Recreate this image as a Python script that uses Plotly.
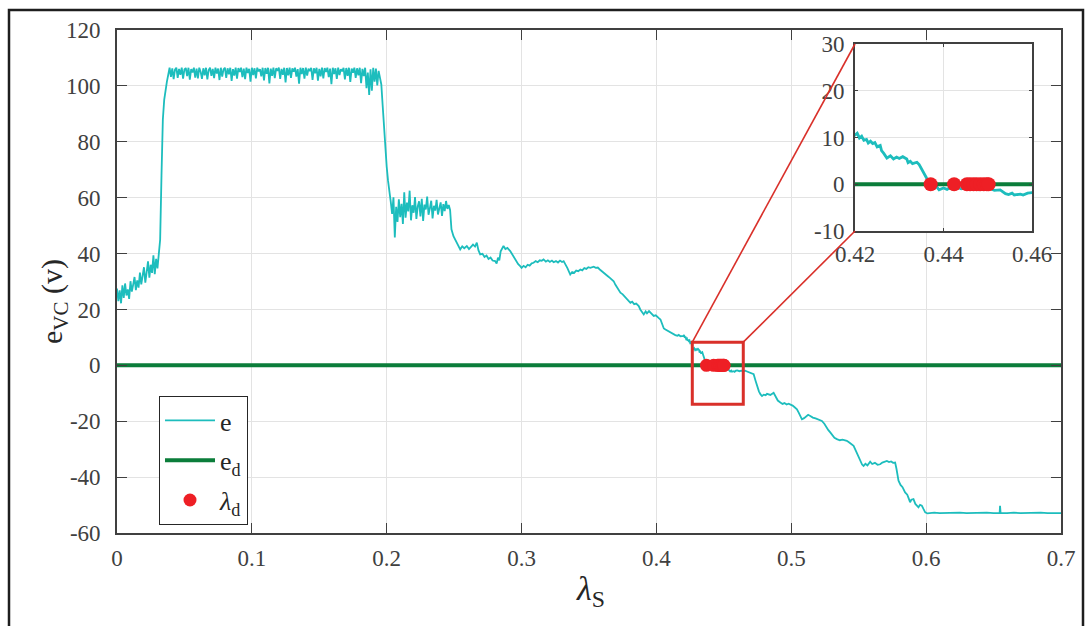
import plotly.graph_objects as go

# ---------------- data ----------------
# start-up region, lambda_S = 0.000 ... 0.031 (step 0.001)
lam_start = [round(0.001 * i, 3) for i in range(32)]
e_start = [27.5, 23.0, 26.8, 22.2, 28.6, 24.1, 29.3, 25.0, 27.2, 23.8,
           30.1, 26.4, 28.9, 31.6, 26.9, 30.4, 27.8, 33.2, 29.0, 31.5,
           35.1, 29.6, 33.8, 37.2, 31.4, 36.0, 33.1, 39.4, 32.6, 38.1,
           34.7, 40.2]

# steep rise to the saturation level
lam_rise = [0.032, 0.033, 0.034, 0.035, 0.036, 0.037, 0.038]
e_rise = [45.0, 68.0, 88.0, 95.0, 99.5, 101.5, 104.0]

# saturated plateau, lambda_S = 0.039 ... 0.195 (step 0.001)
e_plateau = [106.5, 103.2, 106.3, 102.4, 105.8, 106.5, 102.9, 106.1, 104.0, 106.5,
             102.6, 105.9, 106.4, 103.5, 106.5, 102.2, 106.0, 104.8, 106.5, 103.0,
             106.2, 102.7, 106.5, 105.1, 102.5, 106.3, 103.8, 106.5, 102.3, 105.7,
             106.5, 103.6, 106.1, 102.8, 106.5, 104.4, 106.2, 102.1, 106.5, 103.3,
             105.9, 106.5, 102.9, 106.3, 104.1, 106.5, 101.8, 106.0, 103.7, 106.5,
             102.6, 106.4, 105.0, 106.5, 103.1, 106.2, 102.4, 106.5, 104.6, 106.1,
             101.5, 106.5, 103.9, 106.3, 102.7, 106.5, 105.2, 106.0, 103.4, 106.5,
             102.0, 106.4, 104.3, 106.5, 100.9, 106.2, 103.6, 106.5, 102.8, 106.3,
             105.4, 106.5, 102.5, 106.1, 104.0, 106.5, 101.2, 106.4, 103.8, 106.5,
             102.9, 106.3, 105.1, 106.5, 103.3, 106.0, 100.8, 106.5, 104.2, 106.4,
             102.6, 106.5, 103.7, 106.2, 105.3, 106.5, 102.1, 106.3, 104.5, 106.5,
             101.9, 106.1, 103.4, 106.5, 102.7, 106.4, 105.0, 106.5, 103.1, 106.2,
             100.6, 106.5, 104.2, 106.3, 102.5, 106.5, 103.9, 106.0, 105.2, 106.5,
             102.3, 106.4, 103.6, 106.5, 101.4, 106.2, 104.7, 106.5, 102.9, 106.3,
             103.8, 106.5, 101.0, 106.1, 103.5, 106.5, 99.2, 104.8, 96.8, 105.9,
             98.3, 106.5, 101.5, 106.2, 100.2, 105.4, 102.0]
lam_plateau = [round(0.039 + 0.001 * i, 3) for i in range(len(e_plateau))]

# fall from saturation
lam_fall = [0.196, 0.197, 0.198, 0.199, 0.200, 0.201, 0.202]
e_fall = [100.5, 93.0, 84.0, 77.0, 71.0, 66.0, 61.0]

# noisy band, lambda_S = 0.203 ... 0.247 (step 0.001)
e_band = [58.5, 54.2, 60.1, 45.8, 56.7, 51.3, 59.4, 53.0, 57.8, 50.6,
          61.9, 52.8, 58.2, 55.1, 62.5, 51.9, 57.3, 54.6, 60.2, 52.4,
          56.9, 58.7, 53.3, 59.6, 51.7, 57.5, 55.8, 60.4, 53.9, 56.2,
          58.9, 52.6, 57.1, 55.4, 59.2, 54.0, 56.6, 58.3, 53.5, 57.7,
          55.2, 58.8, 56.0, 57.4, 55.6]
lam_band = [round(0.203 + 0.001 * i, 3) for i in range(len(e_band))]

# slow descent, 0.248 ... 0.420
lam_slope = [0.248, 0.2495, 0.251, 0.2525, 0.2545, 0.256, 0.2575, 0.2594, 0.261, 0.2625,
             0.264, 0.2655, 0.2668, 0.268, 0.2693, 0.271, 0.2725, 0.274, 0.2755, 0.277,
             0.2785, 0.2804, 0.2815, 0.2825, 0.2835, 0.2845, 0.2855, 0.2866, 0.288, 0.2895,
             0.2916, 0.293, 0.2945, 0.296, 0.2975, 0.299, 0.300, 0.3015, 0.303, 0.3045,
             0.306, 0.3075, 0.3089, 0.3105, 0.312, 0.3135, 0.315, 0.3163, 0.318, 0.3195,
             0.321, 0.3225, 0.3238, 0.3255, 0.327, 0.3285, 0.330, 0.3312, 0.3325, 0.334,
             0.3361, 0.3375, 0.339, 0.3405, 0.342, 0.3436, 0.345, 0.3465, 0.348, 0.3495,
             0.351, 0.3535, 0.355, 0.3565, 0.358, 0.3597, 0.361, 0.3625, 0.364, 0.3655,
             0.367, 0.3683, 0.3695, 0.371, 0.372, 0.3733, 0.375, 0.3765, 0.378, 0.3795,
             0.3807, 0.382, 0.3835, 0.385, 0.3869, 0.388, 0.389, 0.3906, 0.392, 0.393,
             0.3945, 0.3955, 0.397, 0.398, 0.3995, 0.401, 0.402, 0.403, 0.4045, 0.4055,
             0.4067, 0.408, 0.4095, 0.411, 0.4129, 0.414, 0.4155, 0.4165, 0.4178, 0.419,
             0.420]
e_slope = [48.7, 46.2, 44.6, 43.3, 41.5, 42.6, 41.9, 42.7, 41.6, 42.4,
           43.2, 42.5, 43.9, 41.2, 39.7, 39.9, 38.8, 39.3, 38.1, 38.6,
           37.5, 37.3, 36.4, 38.5, 37.6, 40.8, 41.9, 42.7, 41.6, 42.0,
           40.9, 39.8, 38.5, 37.6, 36.2, 35.5, 34.9, 35.6, 35.1, 36.0,
           35.7, 36.5, 36.7, 37.3, 36.9, 37.6, 37.4, 37.9, 37.1, 37.6,
           37.0, 37.5, 36.9, 37.3, 36.8, 37.5, 37.0, 37.3, 36.2, 34.8,
           32.5, 33.4, 33.1, 33.9, 33.7, 34.3, 34.0, 34.8, 34.5, 35.1,
           34.9, 35.3, 34.9, 35.0, 34.3, 33.7, 33.1, 32.6, 31.9, 31.3,
           30.6, 30.1, 28.9, 27.8, 26.7, 26.0, 25.4, 24.5, 23.6, 22.9,
           22.4, 22.8, 21.9, 22.1, 21.2, 20.0, 19.3, 18.2, 19.3, 18.6,
           19.4, 18.8, 18.2, 17.7, 17.9, 17.0, 16.8, 16.4, 14.5, 13.2,
           12.8, 12.4, 12.0, 11.7, 11.0, 10.8, 10.6, 10.9, 10.4, 10.6,
           10.5]

# crossing of the reference, 0.4205 ... 0.4647
lam_cross = [0.4205, 0.421, 0.4215, 0.422, 0.4226, 0.423, 0.4235, 0.424, 0.4245, 0.425,
             0.4257, 0.426, 0.4265, 0.4272, 0.428, 0.4287, 0.4294, 0.430, 0.4308, 0.4317,
             0.432, 0.4325, 0.433, 0.434, 0.4345, 0.4351, 0.4357, 0.4362, 0.437, 0.4377,
             0.4385, 0.439, 0.440, 0.4408, 0.4415, 0.442, 0.443, 0.444, 0.4453, 0.446,
             0.447, 0.448, 0.449, 0.4498, 0.4505, 0.4515, 0.4528, 0.4535, 0.454, 0.4547,
             0.4555, 0.456, 0.4574, 0.458, 0.459, 0.460, 0.4615, 0.463, 0.4647]
e_cross = [10.9, 9.9, 10.3, 9.4, 9.6, 8.8, 9.2, 8.7, 8.9, 8.0,
           8.3, 7.2, 6.6, 5.6, 6.1, 5.4, 5.8, 5.5, 5.9, 5.4,
           4.6, 4.9, 4.4, 4.7, 4.2, 3.1, 2.2, 1.3, 0.1, -0.9,
           -0.6, -1.2, -0.8, -1.1, -0.7, -1.0, -0.6, -1.0, -0.8, -1.1,
           -0.8, -1.2, -0.9, -1.1, -0.9, -1.3, -1.2, -1.6, -2.0, -2.2,
           -1.9, -2.3, -2.1, -2.3, -1.9, -1.8, -2.1, -1.9, -2.1]

# stepped descent and final saturation, 0.4658 ... 0.700
lam_steps = [0.4658, 0.4672, 0.469, 0.4705, 0.4721, 0.4735, 0.4746, 0.476, 0.4772, 0.4783,
             0.4795, 0.481, 0.482, 0.4845, 0.4869, 0.4885, 0.490, 0.4919, 0.4935, 0.495,
             0.4965, 0.498, 0.4993, 0.501, 0.5025, 0.5042, 0.5055, 0.5068, 0.5079, 0.5095,
             0.511, 0.5125, 0.5141, 0.516, 0.518, 0.520, 0.5227, 0.5245, 0.526, 0.5275,
             0.5289, 0.5305, 0.532, 0.5338, 0.536, 0.538, 0.540, 0.5412, 0.543, 0.5445,
             0.5462, 0.548, 0.5495, 0.551, 0.5525, 0.5536, 0.555, 0.5565, 0.5585, 0.560,
             0.562, 0.564, 0.5659, 0.5675, 0.569, 0.5709, 0.5725, 0.574, 0.5755, 0.577,
             0.578, 0.5795, 0.581, 0.5825, 0.5844, 0.586, 0.5872, 0.5881, 0.589, 0.5906,
             0.592, 0.5943, 0.5955, 0.5968, 0.598, 0.5993, 0.601, 0.603, 0.606, 0.610,
             0.615, 0.620, 0.625, 0.630, 0.635, 0.640, 0.645, 0.650, 0.6545, 0.6548,
             0.6552, 0.660, 0.665, 0.670, 0.675, 0.680, 0.685, 0.690, 0.695, 0.700]
e_steps = [-1.9, -2.2, -2.5, -2.9, -3.2, -5.5, -7.4, -9.3, -10.4, -11.0,
           -10.5, -10.7, -10.2, -10.6, -9.8, -11.2, -12.6, -13.3, -13.8, -13.5,
           -14.0, -13.7, -13.9, -14.4, -15.0, -15.7, -16.9, -18.6, -19.3, -18.9,
           -18.3, -17.7, -18.1, -18.7, -19.0, -19.4, -19.9, -20.9, -22.3, -23.2,
           -24.0, -25.1, -25.9, -26.4, -26.8, -26.6, -26.9, -27.0, -27.6, -28.1,
           -28.8, -30.7, -32.4, -34.1, -35.5, -36.0, -35.2, -35.8, -34.5, -35.3,
           -34.9, -35.6, -35.4, -34.8, -34.5, -34.2, -34.6, -34.4, -34.9, -34.8,
           -37.0, -41.3, -42.8, -43.6, -45.5, -46.3, -47.8, -49.0, -48.1, -47.9,
           -49.6, -50.8, -49.9, -50.2, -51.4, -52.6, -53.0, -52.9, -52.7, -52.9,
           -52.8, -52.9, -52.7, -52.9, -52.8, -52.9, -52.7, -52.9, -52.8, -50.3,
           -52.8, -52.9, -52.7, -52.9, -52.8, -52.9, -52.7, -52.9, -52.8, -52.9]

# desired value e_d and detected points lambda_d
e_desired = 0.0
lam_detect = [0.4371, 0.4424, 0.4453, 0.4460, 0.4468, 0.4475, 0.4483, 0.4491, 0.4498, 0.4502]
e_detect = [0.0] * len(lam_detect)

# axis ticks
x_ticks = [0, 0.1, 0.2, 0.3, 0.4, 0.5, 0.6, 0.7]
x_tick_text = ["0", "0.1", "0.2", "0.3", "0.4", "0.5", "0.6", "0.7"]
y_ticks = [-60, -40, -20, 0, 20, 40, 60, 80, 100, 120]
y_tick_text = ["-60", "-40", "-20", "0", "20", "40", "60", "80", "100", "120"]
xi_ticks = [0.42, 0.44, 0.46]
xi_tick_text = ["0.42", "0.44", "0.46"]
yi_ticks = [-10, 0, 10, 20, 30]
yi_tick_text = ["-10", "0", "10", "20", "30"]

# ---------------- assemble ----------------
lam_all = lam_start + lam_rise + lam_plateau + lam_fall + lam_band + lam_slope + lam_cross + lam_steps
e_all = e_start + e_rise + e_plateau + e_fall + e_band + e_slope + e_cross + e_steps

W, H = 1087, 626
FONT = "Liberation Serif"
CYAN = "#1dbdbd"
GREEN = "#0b7d3a"
RED = "#ee1f25"
BOX = "#d9302a"
AX = "#404040"
GRID = "#e3e3e3"

X_RANGE = [0, 0.7]
Y_RANGE = [-60, 120]
X_DOM = [117 / W, 1061 / W]
Y_DOM = [1 - 533 / H, 1 - 30 / H]
XI_DOM = [855 / W, 1032 / W]
YI_DOM = [1 - 231 / H, 1 - 44 / H]

fig = go.Figure()

# main axes
fig.add_trace(go.Scatter(x=lam_all, y=e_all, mode="lines", name="e",
                         line=dict(color=CYAN, width=1.8), legendgroup="a",
                         xaxis="x", yaxis="y"))
fig.add_trace(go.Scatter(x=X_RANGE, y=[e_desired, e_desired], mode="lines",
                         name="e<sub>d</sub>", line=dict(color=GREEN, width=4),
                         legendgroup="b", xaxis="x", yaxis="y"))
fig.add_trace(go.Scatter(x=lam_detect, y=e_detect, mode="markers",
                         name="<i>λ</i><sub>d</sub>",
                         marker=dict(color=RED, size=13), legendgroup="c",
                         xaxis="x", yaxis="y"))

# inset axes
fig.add_trace(go.Scatter(x=lam_all, y=e_all, mode="lines", showlegend=False,
                         line=dict(color=CYAN, width=2.8), xaxis="x2", yaxis="y2"))
fig.add_trace(go.Scatter(x=[0.42, 0.46], y=[e_desired, e_desired], mode="lines",
                         showlegend=False, line=dict(color=GREEN, width=4),
                         xaxis="x2", yaxis="y2"))
fig.add_trace(go.Scatter(x=lam_detect, y=e_detect, mode="markers", showlegend=False,
                         marker=dict(color=RED, size=14), xaxis="x2", yaxis="y2"))

tick_font = dict(family=FONT, size=23, color=AX)
axis_common = dict(ticks="inside", tickcolor=AX, linecolor=AX, linewidth=1.6,
                   mirror="ticks", showgrid=True, gridcolor=GRID, gridwidth=1,
                   zeroline=False, tickfont=tick_font, showline=True, automargin=False)

# zoom box on the main axes and the two connecting lines to the inset
box = dict(x0=0.4266, x1=0.4644, y0=-13.9, y1=8.3)


def to_paper_x(v):
    return X_DOM[0] + (v - X_RANGE[0]) / (X_RANGE[1] - X_RANGE[0]) * (X_DOM[1] - X_DOM[0])


def to_paper_y(v):
    return Y_DOM[0] + (v - Y_RANGE[0]) / (Y_RANGE[1] - Y_RANGE[0]) * (Y_DOM[1] - Y_DOM[0])


shapes = [
    dict(type="rect", xref="x", yref="y", x0=box["x0"], x1=box["x1"],
         y0=box["y0"], y1=box["y1"], line=dict(color=BOX, width=3)),
    dict(type="line", xref="paper", yref="paper",
         x0=to_paper_x(box["x0"]), y0=to_paper_y(box["y1"]),
         x1=XI_DOM[0], y1=YI_DOM[1], line=dict(color=BOX, width=1.6)),
    dict(type="line", xref="paper", yref="paper",
         x0=to_paper_x(box["x1"]), y0=to_paper_y(box["y1"]),
         x1=XI_DOM[0], y1=YI_DOM[0], line=dict(color=BOX, width=1.6)),
    # outer figure frame
    dict(type="rect", xref="paper", yref="paper", x0=9 / W, x1=1083 / W,
         y0=-0.2, y1=1 - 10 / H, line=dict(color="#1e1e1e", width=2.5)),
]

fig.update_layout(
    width=W, height=H,
    margin=dict(l=0, r=0, t=0, b=0, pad=0, autoexpand=False),
    paper_bgcolor="white", plot_bgcolor="white",
    font=dict(family=FONT, color="#262626"),
    xaxis=dict(domain=X_DOM, range=X_RANGE, tickvals=x_ticks, ticktext=x_tick_text,
               ticklen=10, ticklabelstandoff=4, anchor="y", **axis_common),
    yaxis=dict(domain=Y_DOM, range=Y_RANGE, tickvals=y_ticks, ticktext=y_tick_text,
               ticklen=10, ticklabelstandoff=10, anchor="x", **axis_common),
    xaxis2=dict(domain=XI_DOM, range=[0.42, 0.46], tickvals=xi_ticks, ticktext=xi_tick_text,
                ticklen=3, ticklabelstandoff=2, anchor="y2", **axis_common),
    yaxis2=dict(domain=YI_DOM, range=[-10, 30], tickvals=yi_ticks, ticktext=yi_tick_text,
                ticklen=3, ticklabelstandoff=4, anchor="x2", **axis_common),
    shapes=shapes,
    showlegend=True,
    legend=dict(x=159 / W, y=1 - 396 / H, xanchor="left", yanchor="top",
                bgcolor="white", bordercolor="#262626", borderwidth=1,
                font=dict(family=FONT, size=26, color="#262626"),
                itemwidth=50, tracegroupgap=3),
    annotations=[
        dict(text="e<sub>VC</sub> (v)", xref="paper", yref="paper",
             x=33 / W, y=1 - 302 / H, textangle=-90, showarrow=False,
             font=dict(family=FONT, size=30, color="#262626")),
        dict(text="<i>λ</i><sub>S</sub>", xref="paper", yref="paper",
             x=590 / W, y=1 - 614 / H, showarrow=False,
             font=dict(family=FONT, size=34, color="#262626")),
    ],
)

fig.write_html("out.html")
